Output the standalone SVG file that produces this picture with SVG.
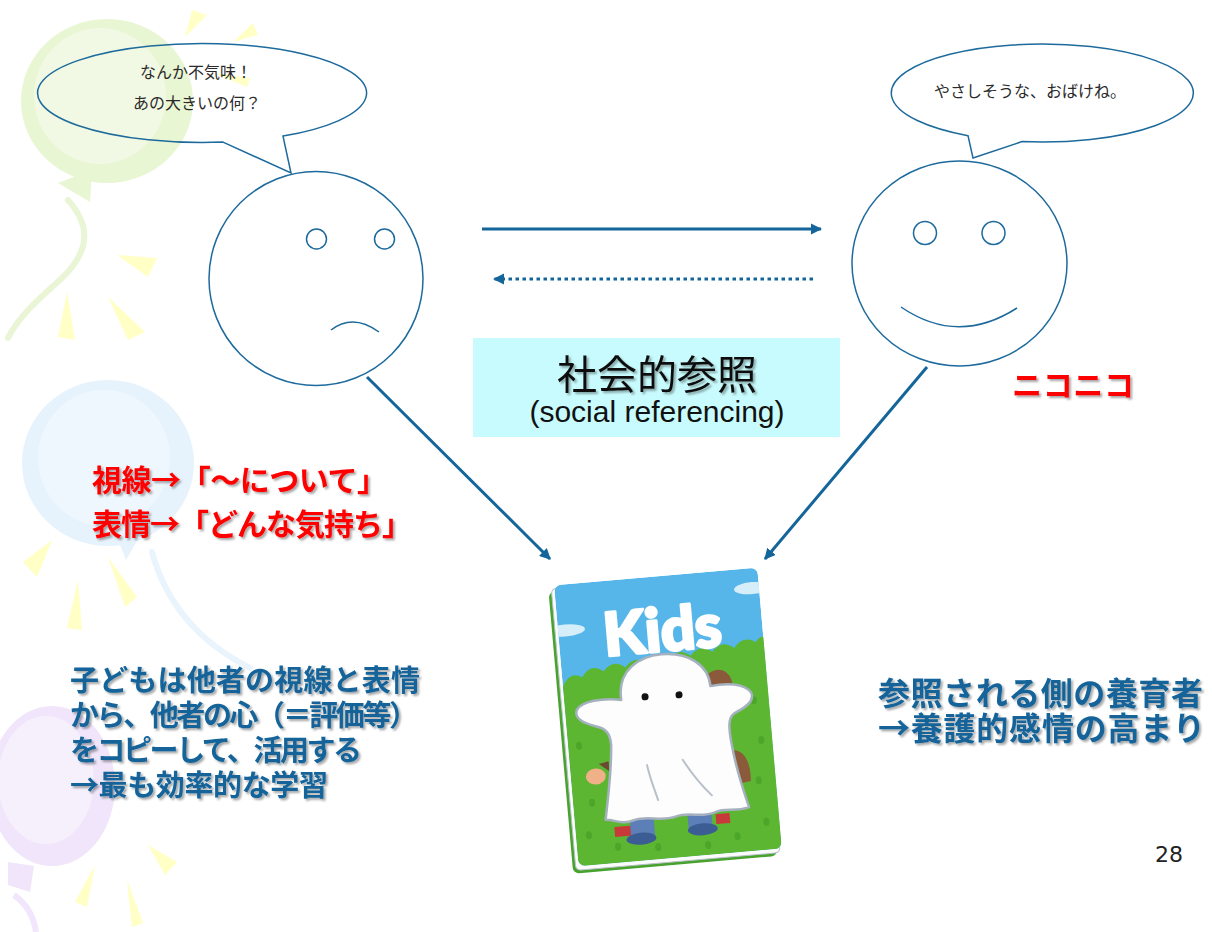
<svg xmlns="http://www.w3.org/2000/svg" width="1212" height="932" viewBox="0 0 1212 932">
  <defs>
    <style>
      .bubble{fill:none;stroke:#1d6a9c;stroke-width:1.5}
      .face{fill:none;stroke:#1d6a9c;stroke-width:1.5}
      .conn{fill:none;stroke:#13659a;stroke-width:3}
      .say{font-family:"Noto Sans CJK JP","Noto Sans CJK SC",sans-serif;font-size:16px;fill:#2a2a2a}
      .red{font-family:"Noto Sans CJK JP","Noto Sans CJK SC",sans-serif;font-weight:700;font-size:30px;fill:#ff0000}
      .blue{font-family:"Noto Sans CJK JP","Noto Sans CJK SC",sans-serif;font-weight:700;fill:#13649a}
      .ray{fill:#ffffc6}
      .title{font-family:"Noto Sans CJK JP","Noto Sans CJK SC",sans-serif;fill:#111}
    </style>
    <filter id="shadow" x="-10%" y="-30%" width="130%" height="170%">
      <feDropShadow dx="2" dy="2" stdDeviation="1.3" flood-color="#000" flood-opacity="0.35"/>
    </filter>
    <marker id="head" viewBox="0 0 10 10" refX="9" refY="5" markerWidth="3.7" markerHeight="3.7" orient="auto">
      <path d="M0,0 L10,5 L0,10 Z" fill="#13659a"/>
    </marker>
    <clipPath id="coverClip">
      <rect x="-101" y="-142" width="204" height="282" rx="7"/>
    </clipPath>
  </defs>

  <rect width="1212" height="932" fill="#ffffff"/>

  <!-- pastel balloons and sun rays along the left edge -->
  <g id="backdrop">
    <!-- green balloon -->
    <path d="M68,200 C90,225 92,250 60,280 C35,302 18,318 8,338" fill="none" stroke="#e9f5d5" stroke-width="6" stroke-linecap="round"/>
    <ellipse cx="107" cy="101" rx="86" ry="82" fill="#e9f6d3"/>
    <ellipse cx="100" cy="96" rx="66" ry="68" fill="#f1f9e4"/>
    <path d="M58,183 L92,170 L90,202 Z" fill="#e9f6d3"/>

    <!-- blue balloon -->
    <path d="M152,552 C165,600 195,640 250,668" fill="none" stroke="#e9f4fc" stroke-width="6" stroke-linecap="round"/>
    <ellipse cx="108" cy="463" rx="86" ry="83" fill="#e7f3fc"/>
    <ellipse cx="104" cy="458" rx="66" ry="68" fill="#eff7fe"/>
    <path d="M118,540 L140,536 L126,560 Z" fill="#e7f3fc"/>

    <!-- purple balloon -->
    <path d="M14,895 C28,905 34,918 36,932" fill="none" stroke="#f1e6fb" stroke-width="6"/>
    <ellipse cx="52" cy="786" rx="63" ry="80" fill="#f0e5fa"/>
    <ellipse cx="46" cy="780" rx="48" ry="64" fill="#f6effc"/>
    <path d="M8,862 L34,866 L30,892 L8,885 Z" fill="#f0e5fa"/>

    <!-- rays -->
    <polygon class="ray" points="192,10 207,15 185,37"/>
    <polygon class="ray" points="233,42 253,23 258,35"/>
    <polygon class="ray" points="213,73 250,78 247,87"/>
    <polygon class="ray" points="117,255 157,258 148,277"/>
    <polygon class="ray" points="67,292 58,337 75,340"/>
    <polygon class="ray" points="108,297 128,340 145,332"/>
    <polygon class="ray" points="52,540 23,562 37,577"/>
    <polygon class="ray" points="78,580 67,628 82,630"/>
    <polygon class="ray" points="108,557 125,607 137,597"/>
    <polygon class="ray" points="148,845 177,862 165,875"/>
    <polygon class="ray" points="95,865 75,902 87,907"/>
    <polygon class="ray" points="127,880 132,927 143,923"/>
  </g>

  <!-- connectors -->
  <g id="connectors">
    <path class="conn" d="M482,229 L821,229" marker-end="url(#head)"/>
    <path class="conn" d="M813,279 L494,279" stroke-dasharray="3.5 3.5" marker-end="url(#head)"/>
    <path class="conn" d="M367,377 L550,559" marker-end="url(#head)"/>
    <path class="conn" d="M927,367 L765,559" marker-end="url(#head)"/>
  </g>

  <!-- worried child -->
  <g id="child">
    <path class="bubble" d="M223,142.1 L291,173 L283,136.1 A164.5 49.5 0 1 0 223,142.1 Z"/>
    <text class="say" x="196" y="78" text-anchor="middle">なんか不気味！</text>
    <text class="say" x="197" y="109" text-anchor="middle">あの大きいの何？</text>
    <circle class="face" cx="316" cy="278.5" r="107"/>
    <circle class="face" cx="316.5" cy="239" r="10"/>
    <circle class="face" cx="384.5" cy="239" r="10"/>
    <path class="face" d="M331,330 Q353,313 379,332"/>
  </g>

  <!-- smiling caregiver -->
  <g id="caregiver">
    <path class="bubble" d="M968,135.7 L973,158 L1022,141.6 A151 49 0 1 0 968,135.7 Z"/>
    <text class="say" x="1030" y="97" text-anchor="middle">やさしそうな、おばけね。</text>
    <ellipse class="face" cx="959.5" cy="263.5" rx="107.5" ry="102.5"/>
    <circle class="face" cx="925" cy="233" r="11.5"/>
    <circle class="face" cx="993.5" cy="233" r="11.5"/>
    <path class="face" d="M901,307 Q958,346 1017,308"/>
    <text class="red" x="1012" y="396" filter="url(#shadow)" textLength="122" lengthAdjust="spacing">ニコニコ</text>
  </g>

  <!-- title box -->
  <g id="title">
    <rect x="473" y="338" width="367" height="99" fill="#c8fbfd"/>
    <text class="title" x="657" y="389" text-anchor="middle" font-size="40" filter="url(#shadow)">社会的参照</text>
    <text x="657" y="422" text-anchor="middle" font-family="'Liberation Sans',Arial,sans-serif" font-size="30" fill="#111">(social referencing)</text>
  </g>

  <!-- picture book -->
  <g id="book" transform="translate(667 718) rotate(-5)">
    <rect x="-107" y="-136" width="205" height="283" rx="6" fill="#47a32d"/>
    <rect x="-104" y="-139" width="205" height="283" rx="5" fill="#fbfbfb" stroke="#b8c2c8" stroke-width="1"/>
    <g clip-path="url(#coverClip)">
      <rect x="-101" y="-142" width="204" height="282" fill="#57b6e9"/>
      <ellipse cx="-94" cy="-96" rx="20" ry="6" fill="#d6eef9"/>
      <ellipse cx="96" cy="-122" rx="18" ry="6" fill="#d6eef9"/>
      <path d="M-101,-40 q8,-16 20,-8 q10,-14 22,-4 q10,-12 22,-2 q10,-12 22,-2 q10,-12 22,-2 q10,-12 22,-2 q10,-12 22,-2 q10,-12 22,-2 q10,-12 22,-4 q6,-8 12,-2 L103,140 L-101,140 Z" fill="#5cb632"/>
      <g fill="#4ba62a">
        <ellipse cx="-86" cy="-12" rx="3" ry="4"/>
        <ellipse cx="-90" cy="20" rx="3" ry="4"/>
        <ellipse cx="-82" cy="78" rx="3" ry="4"/>
        <ellipse cx="-88" cy="110" rx="3" ry="4"/>
        <ellipse cx="-60" cy="124" rx="3" ry="4"/>
        <ellipse cx="88" cy="-10" rx="3" ry="4"/>
        <ellipse cx="92" cy="30" rx="3" ry="4"/>
        <ellipse cx="86" cy="70" rx="3" ry="4"/>
        <ellipse cx="90" cy="112" rx="3" ry="4"/>
        <ellipse cx="60" cy="124" rx="3" ry="4"/>
        <ellipse cx="-20" cy="128" rx="3" ry="4"/>
        <ellipse cx="30" cy="130" rx="3" ry="4"/>
      </g>
      <text x="3" y="-67" text-anchor="middle" font-family="Lato,'Noto Sans',sans-serif" font-weight="900" font-size="60" fill="#ffffff" stroke="#ffffff" stroke-width="3" stroke-linejoin="round">Kids</text>
      <!-- figures peeking out behind the ghost -->
      <path d="M42,-38 C52,-48 66,-44 68,-30 L68,-14 L46,-18 Z" fill="#8a5a3a"/>
      <path d="M60,38 C72,36 80,48 78,70 L64,72 Z" fill="#8a5a3a"/>
      <ellipse cx="-76" cy="52" rx="10" ry="8" fill="#f0b088"/>
      <path d="M-72,40 L-62,38 L-62,48 Z" fill="#6a4a30"/>
      <path d="M-62,104 L-44,104 L-44,114 L-62,114 Z" fill="#c83a3a"/>
      <path d="M40,100 L54,100 L54,110 L40,110 Z" fill="#c83a3a"/>
      <circle cx="33" cy="-52" r="3" fill="#3a86cc"/>
      <!-- legs -->
      <rect x="-46" y="96" width="24" height="20" fill="#5c7fb8"/>
      <rect x="12" y="92" width="24" height="20" fill="#5c7fb8"/>
      <ellipse cx="-36" cy="118" rx="15" ry="6" fill="#3c5d93"/>
      <ellipse cx="26" cy="114" rx="15" ry="6" fill="#3c5d93"/>
      <!-- ghost -->
      <path d="M-44,-22 C-46,-52 -22,-64 0,-64 C26,-64 46,-50 46,-28 C62,-30 80,-28 86,-18 C89,-10 80,-4 70,0 C62,3 60,10 62,30 C64,55 70,80 74,96 C60,100 50,94 40,98 C25,103 15,95 0,99 C-15,103 -28,95 -42,99 C-55,103 -62,96 -70,96 C-66,75 -60,50 -58,22 C-58,10 -62,5 -72,2 C-84,-2 -93,-8 -89,-16 C-84,-24 -62,-26 -44,-22 Z" fill="#fdfdfd" stroke="#a5b1bf" stroke-width="2.5" stroke-linejoin="round"/>
      <circle cx="-20" cy="-23" r="3.5" fill="#111"/>
      <circle cx="14" cy="-22" r="3.5" fill="#111"/>
      <path d="M-24,45 C-22,60 -18,72 -16,81" fill="none" stroke="#b8c0ca" stroke-width="2" stroke-linecap="round"/>
      <path d="M12,43 C20,58 30,72 38,81" fill="none" stroke="#b8c0ca" stroke-width="2" stroke-linecap="round"/>
    </g>
  </g>

  <!-- explanatory texts -->
  <g id="gaze-note" filter="url(#shadow)">
    <text class="red" x="92" y="491" textLength="295" lengthAdjust="spacing">視線→「～について」</text>
    <text class="red" x="92" y="535" textLength="320" lengthAdjust="spacing">表情→「どんな気持ち」</text>
  </g>

  <g id="learning-note" filter="url(#shadow)">
    <text class="blue" x="70" y="691" font-size="29" textLength="350" lengthAdjust="spacing">子どもは他者の視線と表情</text>
    <text class="blue" x="70" y="726" font-size="29" textLength="348" lengthAdjust="spacing">から、他者の心（＝評価等）</text>
    <text class="blue" x="70" y="761" font-size="29" textLength="292" lengthAdjust="spacing">をコピーして、活用する</text>
    <text class="blue" x="70" y="796" font-size="29" textLength="258" lengthAdjust="spacing">→最も効率的な学習</text>
  </g>

  <g id="caregiver-note" filter="url(#shadow)">
    <text class="blue" x="878" y="705" font-size="32" textLength="325" lengthAdjust="spacing">参照される側の養育者</text>
    <text class="blue" x="878" y="740" font-size="32" textLength="327" lengthAdjust="spacing">→養護的感情の高まり</text>
  </g>

  <text id="page-number" x="1155" y="862" font-family="'DejaVu Sans',Verdana,sans-serif" font-size="22" fill="#222">28</text>
</svg>
